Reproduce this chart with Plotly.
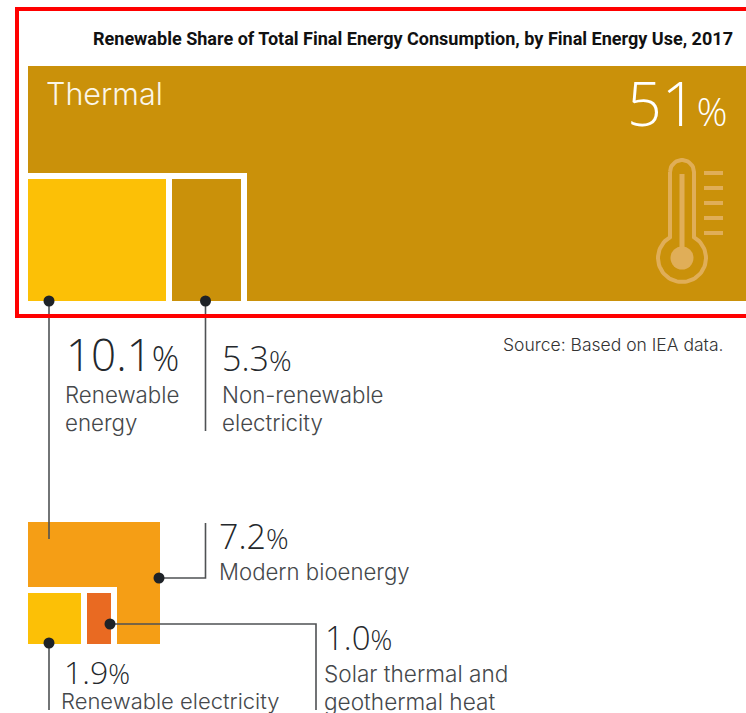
import numpy as np
import plotly.graph_objects as go

# ---- data (share of total final energy, %) ----
thermal_share = 51
split_names = ["Renewable energy", "Non-renewable electricity"]
split_values = [10.1, 5.3]
renewable_names = ["Modern bioenergy", "Renewable electricity", "Solar thermal and geothermal heat"]
renewable_values = [7.2, 1.9, 1.0]
title_text = "Renewable Share of Total Final Energy Consumption, by Final Energy Use, 2017"
source_text = "Source: Based on IEA data."

GOLD, YELLOW, ORANGE, RED, WHITE = "#CA910A", "#FCC006", "#F59E15", "#E96A22", "#FFFFFF"
INK, LABEL, LEADER, ICON = "#24282C", "#45484B", "#4F5254", "#E0AE58"
FONT = "Inter"
NUMFONT = "Open Sans"

fig = go.Figure()


def block(left, top, bottom, width, color):
    fig.add_trace(go.Bar(x=[left + width / 2], y=[bottom - top], base=[top], width=[width],
                         marker=dict(color=color, line=dict(width=0)), hoverinfo="skip", showlegend=False))


# scale: pixels per percentage point, per block of the infographic
block(28, 66, 301, thermal_share * 14.6, GOLD)
block(28, 173, 301, 218.5, WHITE)
block(28, 179, 301, split_values[0] * 13.66, YELLOW)
block(172, 179, 301, split_values[1] * 13.0, GOLD)

block(28, 522, 644, renewable_values[0] * 18.3, ORANGE)
block(28, 586.5, 644, 89, WHITE)
block(28, 593, 644, renewable_values[1] * 27.9, YELLOW)
block(87, 593, 644, renewable_values[2] * 24, RED)


def line(xs, ys, color=LEADER, width=1.6):
    fig.add_trace(go.Scatter(x=xs, y=ys, mode="lines", hoverinfo="skip", showlegend=False,
                             line=dict(color=color, width=width)))


# leader lines and dots
line([49, 49], [301, 539])
line([205.5, 205.5], [301, 431])
line([205.5, 205.5, 160], [523, 578, 578])
line([110, 316, 316], [624, 624, 710])
line([49, 49], [643, 710])
fig.add_trace(go.Scatter(x=[49, 205.5, 159, 110, 49], y=[301, 301, 578, 624, 643], mode="markers",
                         marker=dict(size=11, color="#1E2227"), hoverinfo="skip", showlegend=False))

# thermometer icon
cx, cy, R, r = 682, 258, 24, 12
a0 = np.arcsin(r / R)
ang = np.linspace(a0, 2 * np.pi - a0, 60)
bx, by = cx + R * np.sin(ang), cy - R * np.cos(ang)
top = np.linspace(-np.pi / 2, np.pi / 2, 24)
tx, ty = cx + r * np.sin(top), 172 - r * np.cos(top)
line(list(tx) + list(bx) + [tx[0]], list(ty) + list(by) + [ty[0]], ICON, 4)
line([682, 682], [174, 258], ICON, 5)
fig.add_trace(go.Scatter(x=[682], y=[258], mode="markers", marker=dict(size=23, color=ICON),
                         hoverinfo="skip", showlegend=False))
for tick_y in [173, 188, 203, 218, 233]:
    line([704, 723], [tick_y, tick_y], ICON, 4)


def text(x, y, s, size, color=LABEL, anchor="left", weight=300, family=FONT):
    fig.add_annotation(x=x, y=y, xref="x", yref="y", text=s, showarrow=False, xanchor=anchor,
                       yanchor="middle", align=anchor, borderpad=0, borderwidth=0,
                       font=dict(family=family, size=size, color=color, weight=weight))


def pct(v, small):
    return f'{v}<span style="font-size:{small}px">%</span>'


text(93, 38, title_text, 19, "#111111", "left", 700, "Roboto")
text(46, 93.5, "Thermal", 30.5, "#FBF6E8")
text(727, 102, pct(thermal_share, 38), 61, "#FFFFFF", "right", family=NUMFONT)
text(723, 344, source_text, 17.5, "#333333", "right", weight=300)

text(66, 354, pct(split_values[0], 34), 44, INK, family=NUMFONT)
text(65, 394.5, "Renewable", 22.3)
text(65, 422.5, "energy", 22.3)
text(222, 358, pct(split_values[1], 28), 34, INK, family=NUMFONT)
text(222, 394.5, "Non-renewable", 22.3)
text(222, 422.5, "electricity", 22.3)

text(219, 535.5, pct(renewable_values[0], 28), 34, INK, family=NUMFONT)
text(219, 571, "Modern bioenergy", 22.2)
text(64, 671, pct(renewable_values[1], 27), 32, INK, family=NUMFONT)
text(61, 701, "Renewable electricity", 22)
text(325, 637, pct(renewable_values[2], 27), 33, INK, family=NUMFONT)
text(324, 673.5, "Solar thermal and", 22.6)
text(324, 701, "geothermal heat", 22.6)

# red highlight frame (open past the right edge of the picture)
fig.add_shape(type="rect", x0=17, x1=800, y0=9, y1=316, xref="x", yref="y",
              line=dict(color="#FF0000", width=4), fillcolor="rgba(0,0,0,0)", layer="above")

fig.update_layout(width=746, height=713, margin=dict(l=0, r=0, t=0, b=0), autosize=False,
                  paper_bgcolor="white", plot_bgcolor="white", barmode="overlay", bargap=0,
                  xaxis=dict(range=[0, 746], visible=False, fixedrange=True),
                  yaxis=dict(range=[713, 0], visible=False, fixedrange=True),
                  hovermode=False)

# page margin off; the condensed title face is not installed, so fit the title to its width
post = """
document.body.style.margin = '0';
document.body.style.overflow = 'hidden';
document.querySelectorAll('.annotation-text').forEach(function (t) {
  if (t.textContent.indexOf('Renewable Share') === 0) {
    t.setAttribute('textLength', '640');
    t.setAttribute('lengthAdjust', 'spacingAndGlyphs');
  }
});
"""
fig.write_html("out.html", config=dict(displayModeBar=False), post_script=post)
